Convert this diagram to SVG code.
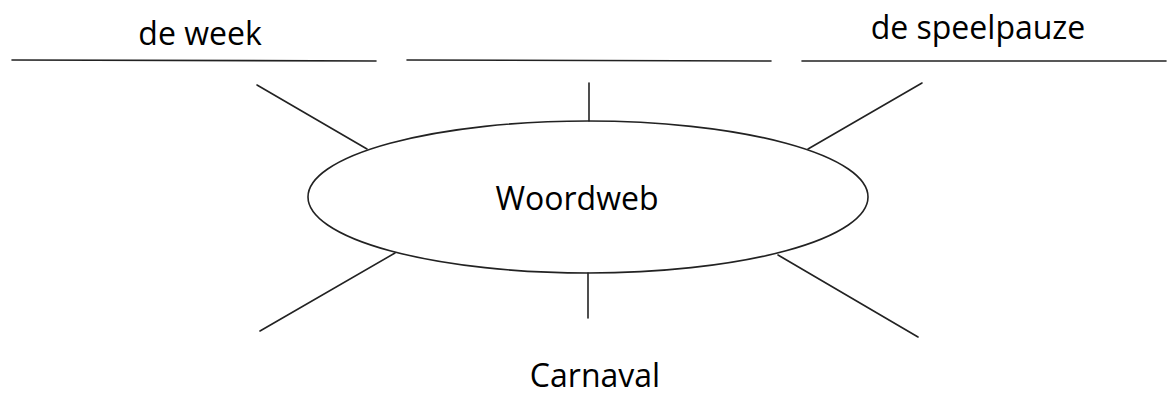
<svg xmlns="http://www.w3.org/2000/svg" width="1173" height="401" viewBox="0 0 1173 401">
<style>
.ln{stroke:#222;stroke-width:1.6;fill:none;stroke-linecap:round}
.t{font-family:"Open Sans","Noto Sans",sans-serif;font-size:32px;fill:#000;text-anchor:middle}
</style>
<rect width="1173" height="401" fill="#fff"/>
<g id="label-de-week">
<line class="ln" x1="12" y1="60" x2="376" y2="61"/>
<text class="t" x="200" y="45">de week</text>
</g>
<g id="label-blank">
<line class="ln" x1="407" y1="60" x2="771" y2="61"/>
</g>
<g id="label-de-speelpauze">
<line class="ln" x1="802" y1="61" x2="1166" y2="61"/>
<text class="t" x="978" y="39">de speelpauze</text>
</g>
<g id="connectors">
<line class="ln" x1="589" y1="83" x2="589" y2="121"/>
<line class="ln" x1="588" y1="273" x2="588" y2="318"/>
<line class="ln" x1="257" y1="85" x2="367" y2="149"/>
<line class="ln" x1="922" y1="83" x2="808" y2="149"/>
<line class="ln" x1="395" y1="253" x2="260" y2="331"/>
<line class="ln" x1="778" y1="255" x2="918" y2="337"/>
</g>
<g id="center-woordweb">
<ellipse class="ln" cx="588" cy="197" rx="280" ry="76"/>
<text class="t" x="577" y="210">Woordweb</text>
</g>
<g id="label-carnaval">
<text class="t" x="595" y="387">Carnaval</text>
</g>
</svg>
